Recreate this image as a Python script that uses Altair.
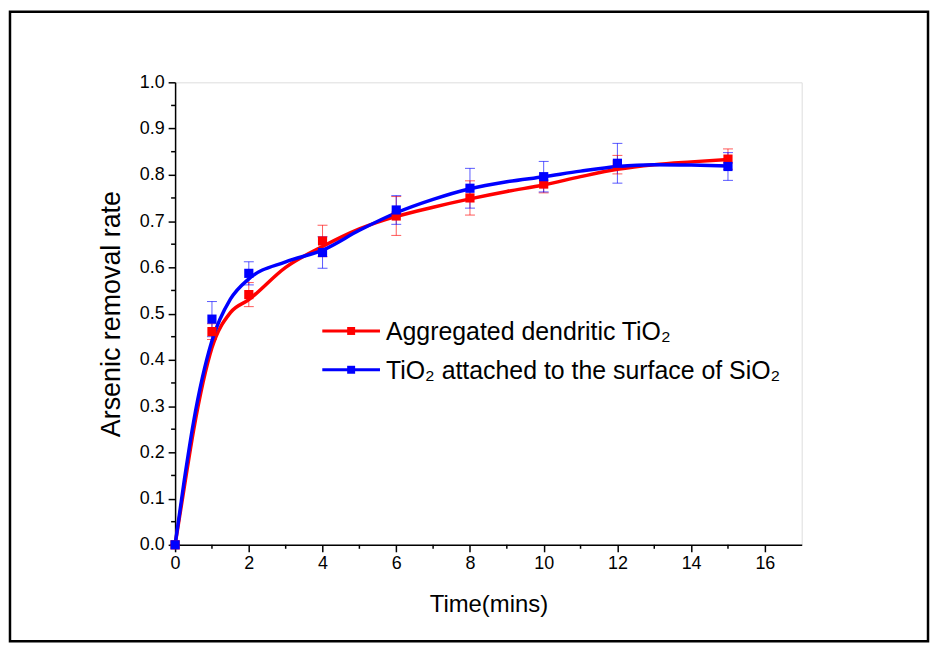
import altair as alt
import pandas as pd

# ---------------- data ----------------
NAME_RED = "Aggregated dendritic TiO₂"
NAME_BLUE = "TiO₂ attached to the surface of SiO₂"

time_pts = [0, 1, 2, 4, 6, 8, 10, 12, 15]
red_vals = [0.0, 0.461, 0.541, 0.657, 0.711, 0.750, 0.780, 0.822, 0.834]
red_err = [0.0, 0.017, 0.026, 0.034, 0.042, 0.037, 0.019, 0.020, 0.022]
blue_vals = [0.0, 0.488, 0.587, 0.632, 0.724, 0.771, 0.796, 0.825, 0.818]
blue_err = [0.0, 0.038, 0.025, 0.034, 0.031, 0.043, 0.033, 0.043, 0.030]

# fitted curves
fit_t = [0, 0.25, 0.5, 1, 1.5, 2, 3, 4, 5, 6, 7, 8, 9, 10, 11, 12, 13, 14, 15]
fit_red = [0.0, 0.125, 0.247, 0.426, 0.502, 0.530, 0.600, 0.645, 0.683, 0.710,
           0.730, 0.748, 0.764, 0.778, 0.796, 0.812, 0.822, 0.828, 0.833]
fit_blue = [0.0, 0.140, 0.265, 0.441, 0.531, 0.575, 0.612, 0.637, 0.680, 0.718,
            0.747, 0.770, 0.785, 0.796, 0.808, 0.818, 0.822, 0.821, 0.819]

x_ticks = [0, 2, 4, 6, 8, 10, 12, 14, 16]
x_minor = [1, 3, 5, 7, 9, 11, 13, 15]
y_ticks = [0.0, 0.1, 0.2, 0.3, 0.4, 0.5, 0.6, 0.7, 0.8, 0.9, 1.0]
y_minor = [0.05, 0.15, 0.25, 0.35, 0.45, 0.55, 0.65, 0.75, 0.85, 0.95]

series_names = [NAME_RED, NAME_BLUE]
series_colors = ["#ff0000", "#0000ff"]

# ---------------- tables ----------------
pts = pd.DataFrame({
    "t": time_pts * 2,
    "v": red_vals + blue_vals,
    "lo": [v - e for v, e in zip(red_vals, red_err)] + [v - e for v, e in zip(blue_vals, blue_err)],
    "hi": [v + e for v, e in zip(red_vals, red_err)] + [v + e for v, e in zip(blue_vals, blue_err)],
    "s": [NAME_RED] * len(time_pts) + [NAME_BLUE] * len(time_pts),
})
fit = pd.DataFrame({
    "t": fit_t * 2,
    "v": fit_red + fit_blue,
    "s": [NAME_RED] * len(fit_t) + [NAME_BLUE] * len(fit_t),
})

W, H = 630, 465
FONT = "Liberation Sans"

x_scale = alt.Scale(domain=[0, 17], nice=False, zero=False)
y_scale = alt.Scale(domain=[0, 1], nice=False)
color_scale = alt.Scale(domain=series_names, range=series_colors)

x_axis = alt.Axis(values=x_ticks, format="d", title="Time(mins)", grid=False, labelFlush=False,
                  tickSize=7, tickWidth=1.5, tickColor="black", domainColor="black",
                  domainWidth=1.5, labelFontSize=18, labelPadding=3, labelColor="black",
                  labelFont=FONT, titleFont=FONT, titleFontSize=24, titleFontWeight="normal",
                  titleColor="black", titlePadding=20)
y_axis = alt.Axis(values=y_ticks, format=".1f", title="Arsenic removal rate", grid=False,
                  labelFlush=False,
                  tickSize=7, tickWidth=1.5, tickColor="black", domainColor="black",
                  domainWidth=1.5, labelFontSize=18, labelPadding=4, labelColor="black",
                  labelFont=FONT, titleFont=FONT, titleFontSize=27, titleFontWeight="normal",
                  titleColor="black", titlePadding=14)

X = alt.X("t:Q", scale=x_scale, axis=x_axis)
Y = alt.Y("v:Q", scale=y_scale, axis=y_axis)
C = alt.Color("s:N", scale=color_scale, legend=None)

base = alt.Chart(pts)

errbars = base.mark_rule(strokeWidth=1, opacity=0.65).encode(
    x=X, y=alt.Y("lo:Q", scale=y_scale, axis=y_axis), y2="hi:Q", color=C)
caps_lo = base.mark_tick(orient="horizontal", size=10, thickness=1, opacity=0.65).encode(
    x=X, y=alt.Y("lo:Q", scale=y_scale, axis=y_axis), color=C)
caps_hi = base.mark_tick(orient="horizontal", size=10, thickness=1, opacity=0.65).encode(
    x=X, y=alt.Y("hi:Q", scale=y_scale, axis=y_axis), color=C)

curves = alt.Chart(fit).mark_line(strokeWidth=3.5, interpolate="monotone").encode(
    x=X, y=Y, color=C, order=alt.Order("t:Q"))

squares = base.mark_square(size=85, opacity=1).encode(x=X, y=Y, color=C)

minor_y = alt.Chart(pd.DataFrame({"v": y_minor})).mark_rule(strokeWidth=1.5, color="black").encode(
    y=Y, x=alt.value(-4), x2=alt.value(0))
minor_x = alt.Chart(pd.DataFrame({"t": x_minor})).mark_rule(strokeWidth=1.5, color="black").encode(
    x=X, y=alt.value(H), y2=alt.value(H + 4))

# manual legend (inside plot), one row per series
one = pd.DataFrame({"a": [0]})
legend_layers = []
for name, col, ypix in zip(series_names, series_colors, [250, 289]):
    legend_layers.append(alt.Chart(one).mark_rule(strokeWidth=3, color=col).encode(
        x=alt.value(148), x2=alt.value(206), y=alt.value(ypix)))
    legend_layers.append(alt.Chart(one).mark_square(size=64, opacity=1, color=col).encode(
        x=alt.value(177), y=alt.value(ypix)))
    legend_layers.append(alt.Chart(one).mark_text(
        align="left", baseline="middle", font=FONT, fontSize=25, color="black", dy=1,
        text=name).encode(x=alt.value(212), y=alt.value(ypix)))

frame = alt.Chart(one).mark_rect(
    fill="transparent", stroke="black", strokeWidth=2.5).encode(
    x=alt.value(-166), x2=alt.value(757), y=alt.value(-71), y2=alt.value(562))

chart = alt.layer(
    minor_y, minor_x, errbars, caps_lo, caps_hi, curves, squares,
    *legend_layers, frame
).properties(
    width=W, height=H,
    autosize=alt.AutoSizeParams(type="none"),
    padding={"left": 168, "top": 73, "right": 130, "bottom": 99},
).configure_view(stroke=None).configure(background="white")

chart.save("out.html", embed_options={"renderer": "svg", "actions": False})
